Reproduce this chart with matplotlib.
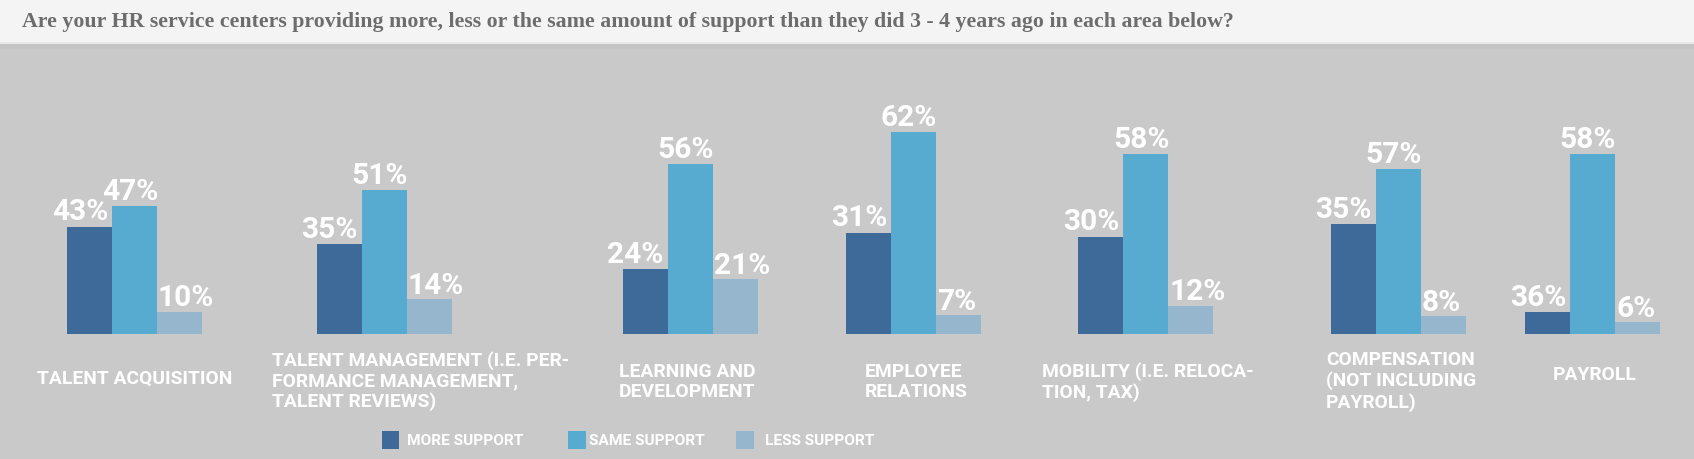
import matplotlib
matplotlib.use("Agg")
import matplotlib.pyplot as plt
from matplotlib.patches import Rectangle

# ---------------- data ----------------
categories = [
    "TALENT ACQUISITION",
    "TALENT MANAGEMENT (I.E. PER-\nFORMANCE MANAGEMENT,\nTALENT REVIEWS)",
    "LEARNING AND\nDEVELOPMENT",
    "EMPLOYEE\nRELATIONS",
    "MOBILITY (I.E. RELOCA-\nTION, TAX)",
    "COMPENSATION\n(NOT INCLUDING\nPAYROLL)",
    "PAYROLL",
]
series_names = ["MORE SUPPORT", "SAME SUPPORT", "LESS SUPPORT"]
# labelled percentages
more_pct = [43, 35, 24, 31, 30, 35, 36]
same_pct = [47, 51, 56, 62, 58, 57, 58]
less_pct = [10, 14, 21, 7, 12, 8, 6]
# bar heights as drawn in the reference (the original graphic is not to scale)
more_drawn = [107, 89.5, 64.5, 101, 97, 109.5, 21.5]
same_drawn = [128, 143.5, 169.5, 202, 179.5, 164.5, 179.5]
less_drawn = [22, 34.5, 54.5, 19, 28, 17.5, 11.5]

title = ("Are your HR service centers providing more, less or the same amount "
         "of support than they did 3 - 4 years ago in each area below?")

# ---------------- layout / style ----------------
W, H = 1694, 460
BASE = 334.5                      # baseline (px from top)
group_left = [67, 316.7, 622.7, 846, 1078.3, 1331, 1525]
bar_w = 45
cat_label_x = [36.7, 271.7, 619, 865, 1041.7, 1326, 1552.7]
cat_label_y = [378.5, 381.5, 382, 382, 382.5, 381.5, 375.5]
colors = ["#3d6a99", "#57abd0", "#95b6cc"]
bg = "#c9c9c9"

fig = plt.figure(figsize=(W / 100, H / 100), dpi=100)
fig.patch.set_facecolor(bg)

# header band
fig.patches.append(Rectangle((0, 1 - 43 / H), 1, 43 / H, transform=fig.transFigure,
                             facecolor="#f4f4f4", edgecolor="none", zorder=0))
fig.patches.append(Rectangle((0, 1 - 45 / H), 1, 2 / H, transform=fig.transFigure,
                             facecolor="#e6e6e6", edgecolor="none", zorder=0))
fig.patches.append(Rectangle((0, 1 - 50 / H), 1, 5 / H, transform=fig.transFigure,
                             facecolor="#c4c4c4", edgecolor="none", zorder=0))

# axes in pixel-like units: x in px, y = height above baseline in px
ax = fig.add_axes([0, 0, 1, 1])
ax.set_xlim(0, W)
ax.set_ylim(-(H - BASE), BASE)
ax.axis("off")
ax.patch.set_alpha(0)

val_font = dict(family=["Roboto", "DejaVu Sans"], weight="bold", color="white", fontsize=21.5)
cat_family = ["Liberation Sans Narrow", "Roboto", "DejaVu Sans"]

for i in range(len(categories)):
    x0 = group_left[i]
    xs = [x0 + bar_w / 2, x0 + 1.5 * bar_w, x0 + 2.5 * bar_w]
    hs = [more_drawn[i], same_drawn[i], less_drawn[i]]
    ps = [more_pct[i], same_pct[i], less_pct[i]]
    for j in range(3):
        ax.bar(xs[j], hs[j], width=bar_w, bottom=0, color=colors[j], edgecolor="none", zorder=2)
    # value labels
    ax.text(x0 + bar_w - 4, hs[0] + 7, f"{ps[0]}%", ha="right", va="baseline", **val_font, zorder=3)
    ax.text(x0 + 2 * bar_w + 1, hs[1] + 7, f"{ps[1]}%", ha="right", va="baseline", **val_font, zorder=3)
    ax.text(x0 + 2 * bar_w + 1, hs[2] + 6, f"{ps[2]}%", ha="left", va="baseline", **val_font, zorder=3)

fig.canvas.draw()
renderer = fig.canvas.get_renderer()


def fit_size(text, target_w, base=20, **kw):
    p = ax.text(0, 0, text, fontsize=base, **kw)
    w = p.get_window_extent(renderer).width
    p.remove()
    return base * target_w / w


# category labels (fit font size to the width of the first label)
cat_size = fit_size(categories[0], 195, family=cat_family, weight="bold")

for i, lab in enumerate(categories):
    ax.text(cat_label_x[i], BASE - cat_label_y[i], lab, ha="left", va="center",
            family=cat_family, weight="bold", fontsize=cat_size, color="white",
            linespacing=1.15, zorder=3)

# legend
leg_sq_x = [381.7, 568, 736]
leg_txt_x = [407.3, 589, 765]
leg_y = 441
leg_size = fit_size(series_names[0], 116, family=cat_family, weight="bold")
for k in range(3):
    ax.add_patch(Rectangle((leg_sq_x[k], BASE - leg_y - 8.5), 17.5, 17.5,
                           facecolor=colors[k], edgecolor="none", zorder=3))
    ax.text(leg_txt_x[k], BASE - leg_y, series_names[k], ha="left", va="center",
            family=cat_family, weight="bold", fontsize=leg_size, color="white", zorder=3)

# title (fit width)
t = fig.text(21.7 / W, 1 - 26.7 / H, title, ha="left", va="baseline",
             family=["Liberation Serif", "DejaVu Serif"], weight="bold",
             fontsize=16, color="#6d6d6d")
fig.canvas.draw()
tw = t.get_window_extent(fig.canvas.get_renderer()).width
t.set_fontsize(16 * 1215 / tw)

fig.savefig("out.png", dpi=100, facecolor=fig.get_facecolor())
